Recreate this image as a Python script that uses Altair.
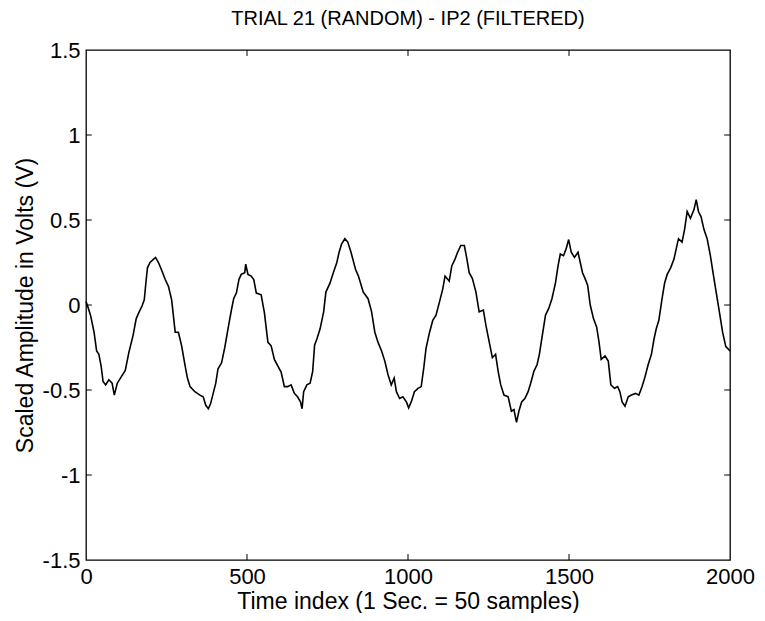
import altair as alt
import pandas as pd

# ---- data ----
sample = [0, 4, 14, 25, 33, 40, 47, 53, 61, 71, 81, 88, 97, 107, 122, 133, 146, 156, 164, 174,
          181, 187, 191, 199, 210, 216, 225, 236, 246, 256, 266, 277, 287, 297, 308, 315, 323, 338,
          354, 364, 372, 380, 387, 395, 403, 410, 421, 431, 441, 452, 459, 467, 475, 482, 493, 496,
          503, 513, 521, 529, 544, 554, 565, 575, 585, 596, 606, 616, 626, 637, 647, 657, 666, 671,
          676, 686, 696, 704, 710, 717, 727, 738, 745, 758, 768, 779, 786, 794, 804, 813, 823, 837,
          846, 861, 876, 887, 897, 907, 918, 928, 938, 948, 957, 964, 974, 984, 995, 1002, 1010,
          1020, 1031, 1041, 1049, 1056, 1067, 1077, 1087, 1098, 1108, 1115, 1128, 1136, 1146, 1154,
          1164, 1175, 1183, 1190, 1200, 1211, 1221, 1234, 1242, 1252, 1262, 1272, 1280, 1288, 1298,
          1311, 1321, 1329, 1337, 1345, 1353, 1363, 1373, 1381, 1391, 1401, 1408, 1417, 1427, 1437,
          1447, 1458, 1466, 1473, 1483, 1491, 1499, 1507, 1517, 1528, 1535, 1542, 1550, 1558, 1566,
          1576, 1586, 1593, 1600, 1612, 1622, 1630, 1641, 1651, 1658, 1665, 1674, 1684, 1694, 1707,
          1717, 1727, 1735, 1746, 1756, 1764, 1771, 1779, 1789, 1797, 1805, 1816, 1826, 1833, 1840,
          1851, 1859, 1867, 1877, 1888, 1895, 1902, 1910, 1919, 1929, 1939, 1949, 1957, 1967, 1977,
          1987, 2000]
value = [0.02, 0.0, -0.06, -0.16, -0.27, -0.29, -0.36, -0.45, -0.47, -0.44, -0.46, -0.53, -0.46,
         -0.43, -0.385, -0.28, -0.18, -0.08, -0.045, -0.006, 0.03, 0.15, 0.22, 0.25, 0.27, 0.28,
         0.25, 0.20, 0.15, 0.11, 0.03, -0.16, -0.16, -0.24, -0.36, -0.43, -0.48, -0.51, -0.53,
         -0.54, -0.59, -0.61, -0.58, -0.52, -0.46, -0.375, -0.34, -0.25, -0.14, -0.025, 0.04, 0.07,
         0.15, 0.18, 0.19, 0.24, 0.18, 0.17, 0.15, 0.07, 0.06, -0.045, -0.22, -0.24, -0.32, -0.36,
         -0.395, -0.48, -0.48, -0.47, -0.52, -0.54, -0.57, -0.61, -0.51, -0.47, -0.46, -0.39,
         -0.235, -0.20, -0.14, -0.04, 0.076, 0.13, 0.19, 0.25, 0.31, 0.36, 0.39, 0.37, 0.31, 0.21,
         0.17, 0.076, 0.037, -0.04, -0.16, -0.22, -0.27, -0.33, -0.41, -0.47, -0.43, -0.51, -0.55,
         -0.54, -0.57, -0.605, -0.57, -0.51, -0.49, -0.48, -0.37, -0.255, -0.16, -0.09, -0.06,
         0.02, 0.095, 0.17, 0.14, 0.23, 0.27, 0.31, 0.35, 0.35, 0.27, 0.19, 0.155, 0.076, -0.04,
         -0.03, -0.12, -0.215, -0.31, -0.29, -0.39, -0.47, -0.53, -0.54, -0.625, -0.615, -0.69,
         -0.62, -0.57, -0.55, -0.51, -0.46, -0.39, -0.35, -0.29, -0.18, -0.06, -0.02, 0.037, 0.13,
         0.23, 0.30, 0.29, 0.33, 0.385, 0.31, 0.28, 0.31, 0.25, 0.19, 0.155, 0.115, 0.0, -0.08,
         -0.13, -0.215, -0.32, -0.30, -0.33, -0.47, -0.49, -0.48, -0.51, -0.57, -0.595, -0.54,
         -0.53, -0.52, -0.53, -0.48, -0.43, -0.35, -0.29, -0.20, -0.14, -0.09, 0.037, 0.13, 0.18,
         0.22, 0.27, 0.33, 0.39, 0.37, 0.445, 0.55, 0.51, 0.56, 0.62, 0.55, 0.52, 0.445, 0.39,
         0.29, 0.17, 0.076, -0.04, -0.16, -0.245, -0.27]

x_labels = [0, 500, 1000, 1500, 2000]
y_labels = [-1.5, -1, -0.5, 0, 0.5, 1, 1.5]
x_inner_ticks = [500, 1000, 1500]
y_inner_ticks = [-1, -0.5, 0, 0.5, 1]

X_MIN, X_MAX = 0, 2000
Y_MIN, Y_MAX = -1.5, 1.5
X_TICK_LEN = 18     # inner tick length, in data units (~6 px)
Y_TICK_LEN = 0.035  # inner tick length, in data units (~6 px)

FONT = "Liberation Sans"
FS_LABEL = 22
FS_AXTITLE = 23
FS_TITLE = 20

W, H = 644, 510

df = pd.DataFrame({"t": sample, "v": value})

# inner tick tables (built from the tick lists above)
xt = pd.DataFrame({
    "t": x_inner_ticks * 2,
    "a": [Y_MIN] * len(x_inner_ticks) + [Y_MAX] * len(x_inner_ticks),
    "b": [Y_MIN + Y_TICK_LEN] * len(x_inner_ticks) + [Y_MAX - Y_TICK_LEN] * len(x_inner_ticks),
})
yt = pd.DataFrame({
    "v": y_inner_ticks * 2,
    "a": [X_MIN] * len(y_inner_ticks) + [X_MAX] * len(y_inner_ticks),
    "b": [X_MIN + X_TICK_LEN] * len(y_inner_ticks) + [X_MAX - X_TICK_LEN] * len(y_inner_ticks),
})

xs = alt.Scale(domain=[X_MIN, X_MAX], nice=False, zero=False)
ys = alt.Scale(domain=[Y_MIN, Y_MAX], nice=False, zero=False)

line = alt.Chart(df).mark_line(color="black", strokeWidth=1.6).encode(
    x=alt.X("t:Q", scale=xs, axis=alt.Axis(
        values=x_labels, labelExpr="'' + datum.value", labelFlush=False,
        title="Time index (1 Sec. = 50 samples)",
        titleX=W / 2, titleY=48, titleBaseline="alphabetic", titleAlign="center",
        labelPadding=6, labelBaseline="top")),
    y=alt.Y("v:Q", scale=ys, axis=alt.Axis(
        values=y_labels, labelExpr="'' + datum.value", labelFlush=False,
        title="Scaled Amplitude in Volts (V)",
        titleX=-54, titleY=H / 2, titleAngle=-90, titleBaseline="alphabetic",
        titleAlign="center", labelPadding=6)),
)

x_ticks_layer = alt.Chart(xt).mark_rule(color="black", strokeWidth=1).encode(
    x=alt.X("t:Q", scale=xs), y=alt.Y("a:Q", scale=ys), y2="b:Q")
y_ticks_layer = alt.Chart(yt).mark_rule(color="black", strokeWidth=1).encode(
    y=alt.Y("v:Q", scale=ys), x=alt.X("a:Q", scale=xs), x2="b:Q")

chart = alt.layer(line, x_ticks_layer, y_ticks_layer).properties(
    width=W, height=H,
    background="white",
    autosize=alt.AutoSizeParams(type="none"),
    padding={"left": 78, "top": 42, "right": 27, "bottom": 53},
    title=alt.Title("TRIAL 21 (RANDOM) - IP2 (FILTERED)", font=FONT, fontSize=FS_TITLE,
                    fontWeight="normal", color="black", anchor="middle", offset=10),
).configure_view(
    stroke="black", strokeWidth=1.3
).configure_axis(
    grid=False, domain=False, ticks=False,
    labelFont=FONT, labelFontSize=FS_LABEL, labelColor="black",
    titleFont=FONT, titleFontSize=FS_AXTITLE, titleFontWeight="normal", titleColor="black",
)

chart.save("out.html", embed_options={"renderer": "svg", "actions": False})
